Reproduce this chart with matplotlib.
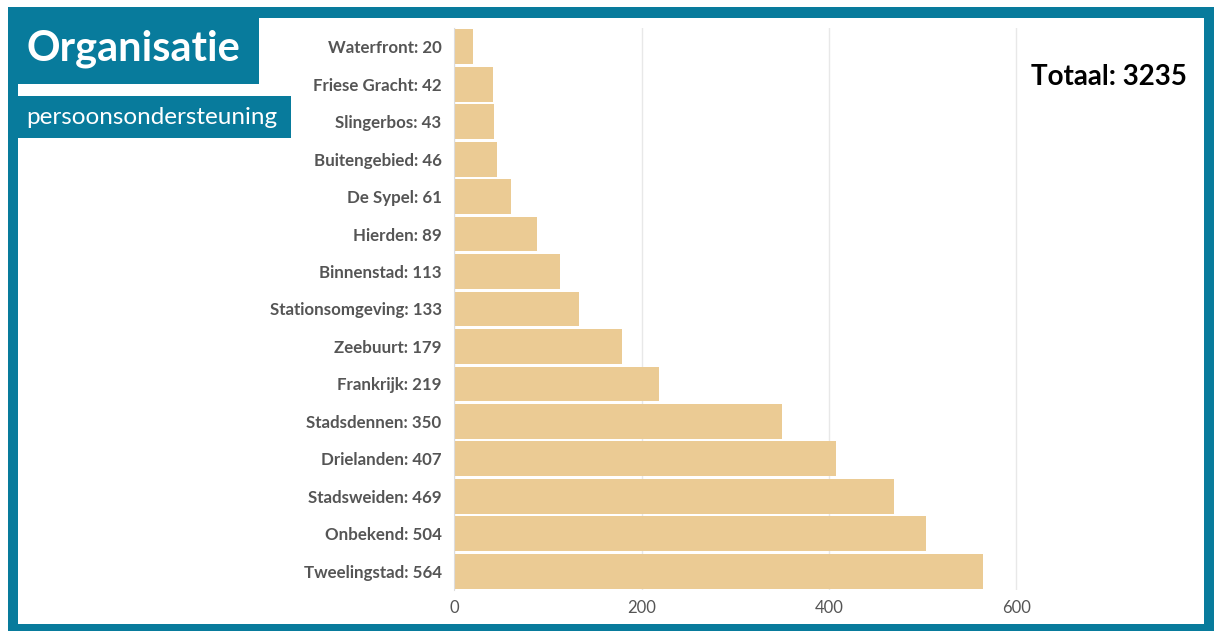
import matplotlib.pyplot as plt
from matplotlib.patches import Rectangle

wijken = ['Waterfront', 'Friese Gracht', 'Slingerbos', 'Buitengebied', 'De Sypel',
          'Hierden', 'Binnenstad', 'Stationsomgeving', 'Zeebuurt', 'Frankrijk',
          'Stadsdennen', 'Drielanden', 'Stadsweiden', 'Onbekend', 'Tweelingstad']
aantallen = [20, 42, 43, 46, 61, 89, 113, 133, 179, 219, 350, 407, 469, 504, 564]
x_ticks = [0, 200, 400, 600]

teal = '#087b9c'
bar_color = '#ebcb94'
plt.rcParams['font.family'] = ['Lato', 'DejaVu Sans']

W, H = 1214, 631
fig = plt.figure(figsize=(W / 100, H / 100), dpi=100)
fig.patch.set_facecolor('white')


def px_rect(x0, y0, x1, y1, **kw):
    # rectangle in pixel coords (origin top left)
    fig.patches.append(Rectangle((x0 / W, 1 - y1 / H), (x1 - x0) / W, (y1 - y0) / H,
                                 transform=fig.transFigure, figure=fig, **kw))


# frame
px_rect(8, 7, 1214, 18, color=teal, lw=0)
px_rect(8, 7, 18, 631, color=teal, lw=0)
px_rect(1204, 7, 1214, 631, color=teal, lw=0)
px_rect(8, 624, 1214, 631, color=teal, lw=0)
# title boxes
px_rect(18, 18, 259, 84, color=teal, lw=0)
px_rect(18, 96, 291, 138, color=teal, lw=0)

fig.text(26 / W, 1 - 49 / H, 'Organisatie', color='white', fontsize=30,
         fontweight='bold', va='center', ha='left')
fig.text(26 / W, 1 - 117 / H, 'persoonsondersteuning', color='white', fontsize=17.5,
         va='center', ha='left')
fig.text(1187 / W, 1 - 77 / H, 'Totaal: 3235', color='black', fontsize=20,
         fontweight='bold', va='center', ha='right')

x0, x1 = 454, 1190
y_top, y_bot = 28, 590
ax = fig.add_axes([x0 / W, 1 - y_bot / H, (x1 - x0) / W, (y_bot - y_top) / H])
scale = 187.5 / 200
ax.set_xlim(0, (x1 - x0) / scale)

labels = [f'{w}: {a}' for w, a in zip(wijken, aantallen)]
ypos = list(range(len(wijken)))
ax.barh(ypos, aantallen, height=0.93, color=bar_color, zorder=2)
ax.set_ylim(len(wijken) - 0.5, -0.5)
ax.set_yticks(ypos)
ax.set_yticklabels(labels, fontsize=12.2, fontweight='bold', color='#555555')
ax.set_xticks(x_ticks)
ax.set_xticklabels([str(t) for t in x_ticks], fontsize=12, color='#555555')
ax.tick_params(length=0)
ax.tick_params(axis='y', pad=9)
ax.tick_params(axis='x', pad=7)
ax.grid(axis='x', color='#e8e8e8', lw=1, zorder=0)
for s in ['top', 'right', 'bottom']:
    ax.spines[s].set_visible(False)
ax.spines['left'].set_color('#dddddd')
ax.set_facecolor('none')

fig.savefig('out.png', dpi=100)
